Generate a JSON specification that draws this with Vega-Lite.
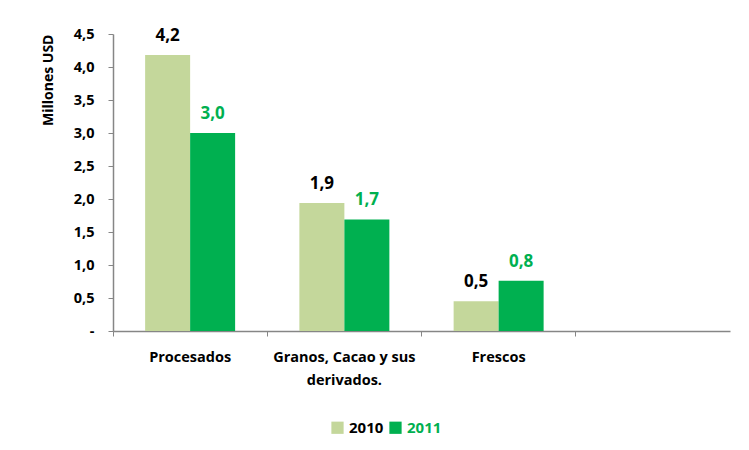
{
  "$schema": "https://vega.github.io/schema/vega-lite/v6.json",
  "width": 617,
  "height": 297,
  "autosize": {"type": "none"},
  "padding": {"left": 113, "top": 34, "right": 19, "bottom": 119},
  "background": "white",
  "config": {
    "view": {"stroke": null},
    "font": "Open Sans",
    "locale": {"number": {"decimal": ",", "thousands": ".", "grouping": [3], "currency": ["$", ""]}}
  },
  "data": {
    "values": [
      {"categoria": "Procesados", "anio": "2010", "valor": 4.18},
      {"categoria": "Procesados", "anio": "2011", "valor": 3.0},
      {"categoria": "Granos, Cacao y sus derivados.", "anio": "2010", "valor": 1.94},
      {"categoria": "Granos, Cacao y sus derivados.", "anio": "2011", "valor": 1.69},
      {"categoria": "Frescos", "anio": "2010", "valor": 0.45},
      {"categoria": "Frescos", "anio": "2011", "valor": 0.76}
    ]
  },
  "encoding": {
    "x": {
      "field": "categoria",
      "type": "nominal",
      "sort": null,
      "scale": {"domain": ["Procesados", "Granos, Cacao y sus derivados.", "Frescos", " "], "paddingInner": 0, "paddingOuter": 0},
      "axis": {
        "title": null,
        "labelAngle": 0,
        "bandPosition": 0,
        "ticks": true,
        "tickSize": 5,
        "tickColor": "#868686",
        "domainColor": "#868686",
        "domainWidth": 1.5,
        "labelFontSize": 14.5,
        "labelFontWeight": "bold",
        "labelColor": "#000000",
        "labelPadding": 14,
        "labelLineHeight": 23,
        "labelExpr": "datum.label == 'Granos, Cacao y sus derivados.' ? ['Granos, Cacao y sus', 'derivados.'] : datum.label"
      }
    },
    "xOffset": {
      "field": "anio",
      "type": "nominal",
      "scale": {"paddingInner": 0, "paddingOuter": 0.714}
    },
    "y": {
      "field": "valor",
      "type": "quantitative",
      "scale": {"domain": [0, 4.5], "nice": false},
      "axis": {
        "title": "Millones USD",
        "titleAnchor": "end",
        "titleFontSize": 14,
        "titleFontWeight": "bold",
        "titleColor": "#000000",
        "titlePadding": 18,
        "values": [0, 0.5, 1, 1.5, 2, 2.5, 3, 3.5, 4, 4.5],
        "labelExpr": "datum.value == 0 ? '-' : format(datum.value, '.1f')",
        "grid": false,
        "tickSize": 5,
        "tickColor": "#868686",
        "domainColor": "#868686",
        "domainWidth": 1.5,
        "labelFontSize": 14.5,
        "labelFontWeight": "bold",
        "labelColor": "#000000",
        "labelPadding": 14
      }
    }
  },
  "layer": [
    {
      "mark": {"type": "bar"},
      "encoding": {
        "color": {
          "field": "anio",
          "type": "nominal",
          "scale": {"domain": ["2010", "2011"], "range": ["#c4d79b", "#00b050"]},
          "legend": {
            "title": null,
            "orient": "none",
            "direction": "horizontal",
            "legendX": 217,
            "legendY": 386,
            "symbolType": "square",
            "symbolSize": 150,
            "symbolStrokeWidth": 0,
            "labelFontSize": 15,
            "labelFontWeight": "bold",
            "columnPadding": 4,
            "labelOffset": 4,
            "encode": {
              "labels": {"update": {"fill": {"signal": "datum.label == '2011' ? '#00b050' : '#000000'"}}}
            }
          }
        }
      }
    },
    {
      "mark": {"type": "text", "dy": -19, "fontSize": 17, "fontWeight": "bold"},
      "encoding": {
        "text": {"field": "valor", "type": "quantitative", "format": ".1f"},
        "color": {
          "field": "anio",
          "type": "nominal",
          "scale": {"domain": ["2010", "2011"], "range": ["#000000", "#00b050"]},
          "legend": null
        }
      }
    }
  ],
  "resolve": {"scale": {"color": "independent"}}
}
